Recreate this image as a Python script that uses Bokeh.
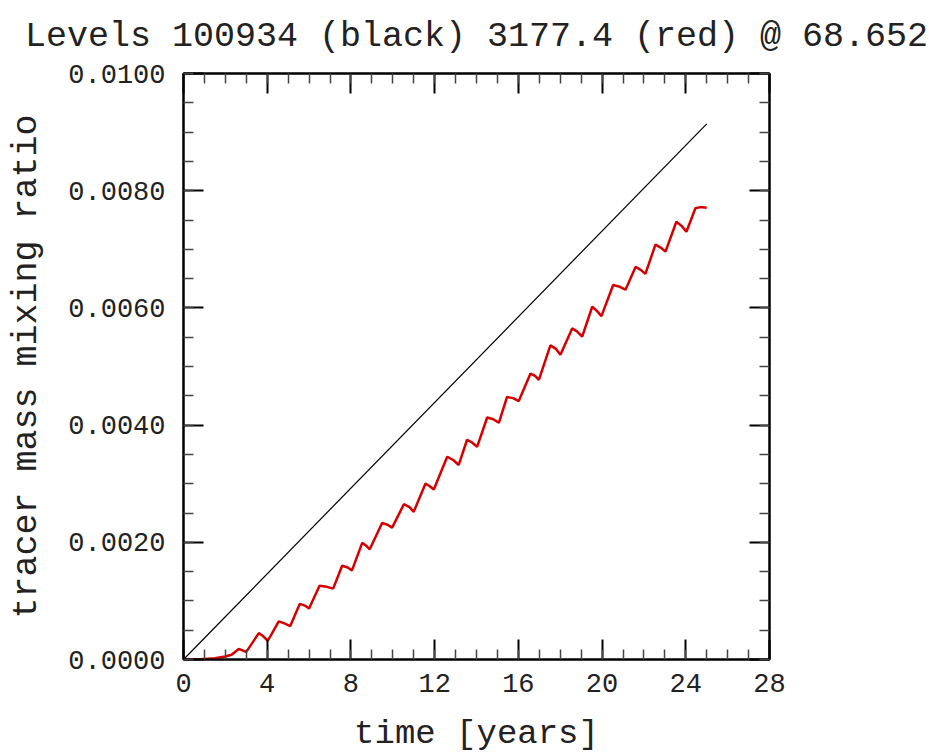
from bokeh.plotting import figure
from bokeh.models import Range1d, LinearAxis, FixedTicker, PrintfTickFormatter
from bokeh.embed import file_html
from bokeh.resources import INLINE

# ---- data ----
black_t = [0.0, 25.0]
black_v = [0.0, 0.00914]

red_t = [0.0, 0.5, 1.0, 1.5, 2.0, 2.3, 2.64, 2.85, 3.0,
         3.6, 3.8, 4.03, 4.55, 4.8, 5.1, 5.56, 5.8, 6.0,
         6.5, 6.85, 7.15, 7.58, 7.85, 8.05, 8.54, 8.7, 8.9,
         9.49, 9.75, 9.97, 10.53, 10.8, 11.0, 11.56, 11.75, 11.96,
         12.6, 12.9, 13.15, 13.55, 13.8, 14.03, 14.51, 14.8, 15.07,
         15.46, 15.75, 16.02, 16.58, 16.8, 16.98, 17.53, 17.8, 18.01,
         18.57, 18.8, 19.05, 19.53, 19.75, 19.97, 20.53, 20.85, 21.12,
         21.6, 21.85, 22.07, 22.55, 22.8, 23.03, 23.55, 23.8, 24.03,
         24.46, 24.7, 25.0]
red_v = [0.0, 0.0, 0.00001, 0.00002, 0.00005, 0.00008, 0.00018, 0.00015, 0.00013,
         0.00045, 0.00040, 0.00032, 0.00065, 0.00062, 0.00057, 0.00095, 0.00092, 0.00087,
         0.00126, 0.00124, 0.00121, 0.00160, 0.00157, 0.00152, 0.00199, 0.00195, 0.00188,
         0.00233, 0.00230, 0.00225, 0.00265, 0.00260, 0.00252, 0.00300, 0.00296, 0.00290,
         0.00346, 0.00340, 0.00332, 0.00375, 0.00370, 0.00363, 0.00413, 0.00410, 0.00404,
         0.00448, 0.00446, 0.00441, 0.00488, 0.00484, 0.00477, 0.00536, 0.00530, 0.00520,
         0.00565, 0.00560, 0.00551, 0.00602, 0.00595, 0.00586, 0.00639, 0.00636, 0.00631,
         0.00670, 0.00665, 0.00658, 0.00708, 0.00703, 0.00696, 0.00747, 0.00740, 0.00730,
         0.00770, 0.00772, 0.00771]

x_major = [0, 4, 8, 12, 16, 20, 24, 28]
x_minor = list(range(0, 29))
y_major = [0.0, 0.002, 0.004, 0.006, 0.008, 0.010]
y_minor = [0.0, 0.0005, 0.001, 0.0015, 0.002, 0.0025, 0.003, 0.0035, 0.004,
           0.0045, 0.005, 0.0055, 0.006, 0.0065, 0.007, 0.0075, 0.008, 0.0085,
           0.009, 0.0095, 0.010]

title_text = "Levels 100934 (black) 3177.4 (red) @ 68.652"
x_label = "time [years]"
y_label = "tracer mass mixing ratio"

FONT = "Liberation Mono"
TEXT_COLOR = "#222222"

p = figure(width=929, height=755, output_backend="svg", toolbar_location=None,
           x_range=Range1d(0, 28), y_range=Range1d(0, 0.01),
           min_border_left=183, min_border_right=160, min_border_top=73,
           min_border_bottom=96, x_axis_location=None, y_axis_location=None)
p.grid.visible = False
p.outline_line_color = "black"
p.outline_line_width = 2
p.background_fill_color = "white"

p.title.text = title_text
p.title.text_font = FONT
p.title.text_font_size = "35px"
p.title.text_font_style = "normal"
p.title.align = "center"
p.title.vertical_align = "top"
p.title.standoff = 30
p.title.text_color = TEXT_COLOR

def make_axis(cls_kwargs, ticks, minors, show_labels, label=None, label_size="34px"):
    ax = LinearAxis(ticker=FixedTicker(ticks=ticks, minor_ticks=minors), **cls_kwargs)
    ax.axis_line_width = 2
    ax.axis_line_color = "black"
    ax.major_tick_in = 20
    ax.major_tick_out = 0
    ax.minor_tick_in = 10
    ax.minor_tick_out = 0
    ax.major_tick_line_width = 2
    ax.minor_tick_line_width = 1.5
    ax.major_tick_line_color = "black"
    ax.minor_tick_line_color = "#444444"
    if show_labels:
        ax.major_label_text_font = FONT
        ax.major_label_text_font_size = "27px"
        ax.major_label_text_color = TEXT_COLOR
        ax.axis_label = label
        ax.axis_label_text_font = FONT
        ax.axis_label_text_font_size = label_size
        ax.axis_label_text_font_style = "normal"
        ax.axis_label_text_color = TEXT_COLOR
    else:
        ax.major_label_text_font_size = "0px"
        ax.major_label_text_color = None
    return ax

bottom = make_axis({}, x_major, x_minor, True, x_label, "34px")
bottom.major_label_standoff = 14
bottom.axis_label_standoff = 20
left = make_axis({"formatter": PrintfTickFormatter(format="%.4f")}, y_major, y_minor, True, y_label, "35px")
left.major_label_standoff = 18
left.axis_label_standoff = 18
top = make_axis({}, x_major, x_minor, False)
right = make_axis({}, y_major, y_minor, False)

p.add_layout(bottom, "below")
p.add_layout(left, "left")
p.add_layout(top, "above")
p.add_layout(right, "right")

p.line(black_t, black_v, line_color="black", line_width=1.2)
p.line(red_t, red_v, line_color="#d40000", line_width=2.5)

open("out.html", "w").write(file_html(p, INLINE))
